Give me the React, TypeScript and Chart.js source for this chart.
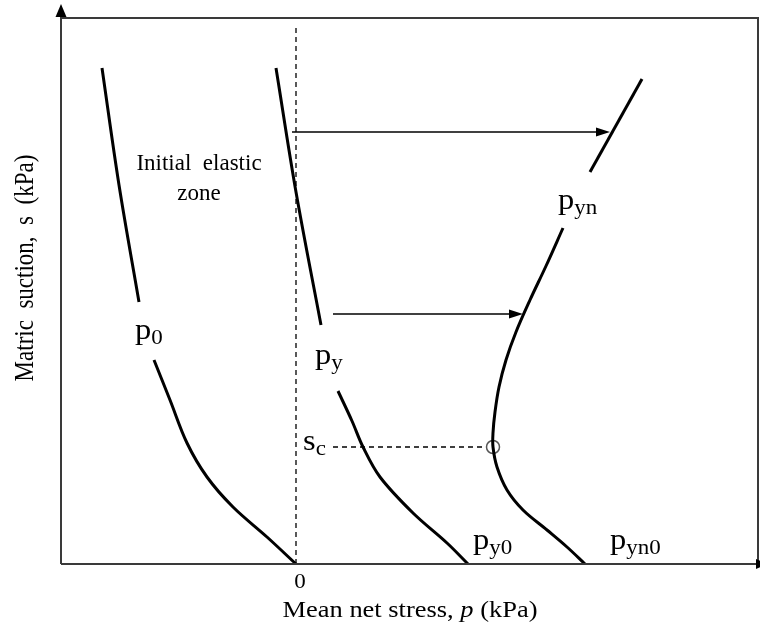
import React, { useEffect, useRef } from "react";
import { Chart, registerables } from "chart.js";

Chart.register(...registerables);

// Axis ranges (schematic units: p in kPa, s in kPa)
const X_MIN = -235;
const X_MAX = 462;
const Y_MIN = 0;
const Y_MAX = 546;

// Yield curves (p, s) — split where labels interrupt the line
const p0Upper = [
  { x: -194, y: 496 },
  { x: -177, y: 379 },
  { x: -157, y: 262 },
];
const p0Lower = [
  { x: -142, y: 204 },
  { x: -126, y: 164 },
  { x: -109, y: 121 },
  { x: -89, y: 87 },
  { x: -63, y: 57 },
  { x: -29, y: 27 },
  { x: 0, y: 0 },
];
const pyUpper = [
  { x: -20, y: 496 },
  { x: 0, y: 372 },
  { x: 25, y: 239 },
];
const pyLower = [
  { x: 42, y: 173 },
  { x: 56, y: 143 },
  { x: 67, y: 117 },
  { x: 84, y: 87 },
  { x: 117, y: 51 },
  { x: 151, y: 21 },
  { x: 172, y: 0 },
];
const pynUpper = [
  { x: 346, y: 485 },
  { x: 294, y: 392 },
];
const pynLower = [
  { x: 267, y: 336 },
  { x: 250, y: 298 },
  { x: 234, y: 264 },
  { x: 220, y: 232 },
  { x: 210, y: 204 },
  { x: 203, y: 177 },
  { x: 199, y: 152 },
  { x: 197, y: 131 },
  { x: 197, y: 117 },
  { x: 201, y: 97 },
  { x: 211, y: 74 },
  { x: 227, y: 54 },
  { x: 251, y: 34 },
  { x: 271, y: 17 },
  { x: 289, y: 0 },
];

// Arrows (start, centre of the arrowhead)
const arrowTop = [
  { x: -4, y: 432 },
  { x: 307, y: 432 },
];
const arrowMid = [
  { x: 37, y: 250 },
  { x: 220, y: 250 },
];

// Dashed guides
const zeroLine = [
  { x: 0, y: 0 },
  { x: 0, y: 539 },
];
const scLine = [
  { x: 37, y: 117 },
  { x: 190, y: 117 },
];
const scPoint = [{ x: 197, y: 117 }];

// Tick label on the p axis
const xTickLabels = ["0"];
const xTickValues = [0];

// Curve labels (main glyph + subscript) anchored in data units
const curveLabels = [
  { main: "p", sub: "0", x: -161, y: 225 },
  { main: "p", sub: "y", x: 19, y: 200 },
  { main: "s", sub: "c", x: 7, y: 114 },
  { main: "p", sub: "yn", x: 262, y: 355 },
  { main: "p", sub: "y0", x: 177, y: 15 },
  { main: "p", sub: "yn0", x: 314, y: 15 },
];
const zoneText = [
  { text: "Initial  elastic", x: -97, y: 394 },
  { text: "zone", x: -97, y: 364 },
];

const SERIF = '"Liberation Serif", "Times New Roman", serif';

const curveStyle = {
  showLine: true,
  borderColor: "#000",
  borderWidth: 3,
  pointRadius: 0,
  tension: 0.35,
  fill: false,
  clip: false as any,
};

function stretchedText(
  ctx: CanvasRenderingContext2D,
  text: string,
  x: number,
  y: number,
  sx: number
) {
  ctx.save();
  ctx.translate(x, y);
  ctx.scale(sx, 1);
  ctx.fillText(text, 0, 0);
  ctx.restore();
  return ctx.measureText(text).width * sx;
}

const overlayPlugin = {
  id: "overlay",
  afterDraw(chart: any) {
    const { ctx, chartArea, scales } = chart;
    const { left, top, right, bottom } = chartArea;
    const xs = scales.x;
    const ys = scales.y;
    ctx.save();

    // Frame and axes
    ctx.strokeStyle = "#3a3a3a";
    ctx.lineWidth = 2;
    ctx.beginPath();
    ctx.moveTo(left, bottom);
    ctx.lineTo(left, 12);
    ctx.moveTo(left, top);
    ctx.lineTo(right, top);
    ctx.lineTo(right, bottom + 3);
    ctx.moveTo(left, bottom);
    ctx.lineTo(chart.width, bottom);
    ctx.stroke();

    // Axis arrowheads
    ctx.fillStyle = "#000";
    ctx.beginPath();
    ctx.moveTo(left, 4);
    ctx.lineTo(left - 5.5, 17);
    ctx.lineTo(left + 5.5, 17);
    ctx.closePath();
    ctx.fill();
    ctx.beginPath();
    ctx.moveTo(chart.width + 8, bottom);
    ctx.lineTo(chart.width - 4, bottom - 5);
    ctx.lineTo(chart.width - 4, bottom + 5);
    ctx.closePath();
    ctx.fill();

    ctx.fillStyle = "#000";
    ctx.textBaseline = "alphabetic";

    // Tick label
    ctx.font = `20px ${SERIF}`;
    ctx.textAlign = "center";
    xTickValues.forEach((v, i) => {
      stretchedText(ctx, xTickLabels[i], xs.getPixelForValue(v) + 4, bottom + 24, 1.15);
    });

    // Zone text
    ctx.font = `23px ${SERIF}`;
    zoneText.forEach((t) => {
      ctx.fillText(t.text, xs.getPixelForValue(t.x), ys.getPixelForValue(t.y));
    });

    // Curve labels with subscripts
    ctx.textAlign = "left";
    curveLabels.forEach((l) => {
      const px = xs.getPixelForValue(l.x);
      const py = ys.getPixelForValue(l.y);
      ctx.font = `29px ${SERIF}`;
      const w = stretchedText(ctx, l.main, px, py, 1.12);
      ctx.font = `20px ${SERIF}`;
      stretchedText(ctx, l.sub, px + w, py + 5, 1.15);
    });

    // X axis title
    const sx = 1.15;
    const parts = [
      { t: "Mean net stress, ", f: `23px ${SERIF}` },
      { t: "p", f: `italic 23px ${SERIF}` },
      { t: " (kPa)", f: `23px ${SERIF}` },
    ];
    let total = 0;
    const widths = parts.map((p) => {
      ctx.font = p.f;
      const w = ctx.measureText(p.t).width * sx;
      total += w;
      return w;
    });
    let cx = 410 - total / 2;
    parts.forEach((p, i) => {
      ctx.font = p.f;
      stretchedText(ctx, p.t, cx, 617, sx);
      cx += widths[i];
    });

    // Y axis title
    ctx.save();
    ctx.translate(33, 268);
    ctx.rotate(-Math.PI / 2);
    ctx.scale(1, 1.15);
    ctx.textAlign = "center";
    ctx.font = `23px ${SERIF}`;
    ctx.fillText("Matric  suction,  s  (kPa)", 0, 0);
    ctx.restore();

    ctx.restore();
  },
};

function makeArrowHead(): HTMLCanvasElement {
  const c = document.createElement("canvas");
  c.width = 14;
  c.height = 10;
  const g = c.getContext("2d")!;
  g.fillStyle = "#000";
  g.beginPath();
  g.moveTo(0, 0.5);
  g.lineTo(14, 5);
  g.lineTo(0, 9.5);
  g.closePath();
  g.fill();
  return c;
}

export default function App() {
  const canvasRef = useRef<HTMLCanvasElement | null>(null);

  useEffect(() => {
    if (!canvasRef.current) return;
    const head = makeArrowHead();
    const arrowStyle = {
      showLine: true,
      borderColor: "#000",
      borderWidth: 1.5,
      pointRadius: [0, 5],
      pointStyle: head as any,
      pointBackgroundColor: "#000",
      pointBorderColor: "#000",
      pointBorderWidth: 0,
      clip: false as any,
    };
    const chart = new Chart(canvasRef.current, {
      type: "scatter",
      data: {
        datasets: [
          { data: p0Upper, ...curveStyle },
          { data: p0Lower, ...curveStyle },
          { data: pyUpper, ...curveStyle },
          { data: pyLower, ...curveStyle },
          { data: pynUpper, ...curveStyle },
          { data: pynLower, ...curveStyle },
          { data: arrowTop, ...arrowStyle },
          { data: arrowMid, ...arrowStyle },
          {
            data: zeroLine,
            showLine: true,
            borderColor: "#000",
            borderWidth: 1.3,
            borderDash: [5, 4],
            pointRadius: 0,
            clip: false as any,
          },
          {
            data: scLine,
            showLine: true,
            borderColor: "#000",
            borderWidth: 1.3,
            borderDash: [5, 4],
            pointRadius: 0,
            clip: false as any,
          },
          {
            data: scPoint,
            showLine: false,
            pointRadius: 6.5,
            pointStyle: "circle",
            pointBackgroundColor: "rgba(0,0,0,0)",
            pointBorderColor: "#555",
            pointBorderWidth: 1.5,
            clip: false as any,
          },
        ] as any,
      },
      options: {
        responsive: false,
        animation: false,
        devicePixelRatio: 1,
        layout: {
          autoPadding: false,
          padding: { left: 61, top: 18, right: 2, bottom: 61 },
        },
        scales: {
          x: { type: "linear", min: X_MIN, max: X_MAX, display: false },
          y: { type: "linear", min: Y_MIN, max: Y_MAX, display: false },
        },
        plugins: {
          legend: { display: false },
          tooltip: { enabled: false },
          title: { display: false },
        },
        events: [],
      } as any,
      plugins: [overlayPlugin],
    });
    return () => chart.destroy();
  }, []);

  return (
    <div
      style={{
        position: "fixed",
        left: 0,
        top: 0,
        width: 760,
        height: 625,
        background: "#fff",
      }}
    >
      <canvas ref={canvasRef} width={760} height={625} />
    </div>
  );
}
